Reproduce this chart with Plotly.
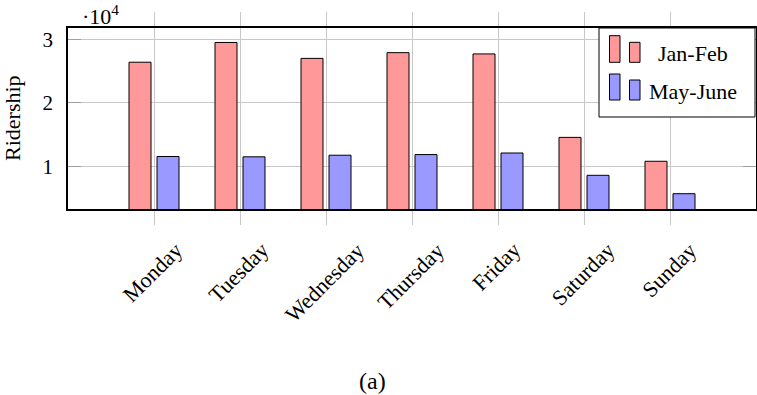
import plotly.graph_objects as go

days = ["Monday", "Tuesday", "Wednesday", "Thursday", "Friday", "Saturday", "Sunday"]
jan_feb = [26400, 29500, 27000, 27900, 27700, 14600, 10850]
may_june = [11600, 11550, 11800, 11900, 12150, 8650, 5760]
y_tickvals = [10000, 20000, 30000]
y_ticktext = ["1", "2", "3"]

RED = "rgb(255,153,153)"
BLUE = "rgb(153,153,255)"
GRID = "rgb(200,200,200)"
FONT = "Liberation Serif"

# plot area in pixels
L, R, T, B = 68, 756, 28, 209
W, H = 757, 395


def px(x):
    return (x - L) / (R - L)


def py(y):
    return (B - y) / (B - T)


fig = go.Figure()
fig.add_trace(go.Bar(x=days, y=jan_feb, name="Jan-Feb", marker=dict(color=RED, line=dict(color="black", width=1))))
fig.add_trace(go.Bar(x=days, y=may_june, name="May-June", marker=dict(color=BLUE, line=dict(color="black", width=1))))

shapes = []
annotations = []
# legend box
shapes.append(dict(type="rect", xref="paper", yref="paper", x0=px(599), x1=px(755), y0=py(117), y1=py(28),
                   line=dict(color="black", width=1), fillcolor="white", layer="above"))
for (color, name, ytop1, ytop2, ybot, ytext) in [(RED, "Jan-Feb", 35.7, 42.3, 62.3, 54),
                                                  (BLUE, "May-June", 74, 80, 100, 91)]:
    shapes.append(dict(type="rect", xref="paper", yref="paper", x0=px(609.5), x1=px(620), y0=py(ybot), y1=py(ytop1),
                       line=dict(color="black", width=1), fillcolor=color, layer="above"))
    shapes.append(dict(type="rect", xref="paper", yref="paper", x0=px(629.5), x1=px(640), y0=py(ybot), y1=py(ytop2),
                       line=dict(color="black", width=1), fillcolor=color, layer="above"))
    annotations.append(dict(text=name, xref="paper", yref="paper", x=px(693), y=py(ytext), showarrow=False,
                            xanchor="center", yanchor="middle", font=dict(family=FONT, size=22, color="black")))

# x category labels, rotated and centred under each tick
for d in days:
    annotations.append(dict(text=d, xref="x", yref="paper", x=d, xshift=-1.5, y=py(235), showarrow=False,
                            textangle=-45, xanchor="center", yanchor="top",
                            font=dict(family=FONT, size=22, color="black")))

annotations.append(dict(text="·10<sup>4</sup>", xref="paper", yref="paper", x=px(80), y=py(15), showarrow=False,
                        xanchor="left", yanchor="middle", font=dict(family=FONT, size=22, color="black")))
annotations.append(dict(text="(a)", xref="paper", yref="paper", x=px(372.5), y=py(381), showarrow=False,
                        xanchor="center", yanchor="middle", font=dict(family=FONT, size=24, color="black")))
annotations.append(dict(text="Ridership", xref="paper", yref="paper", x=px(13), y=py(118), showarrow=False,
                        textangle=-90, xanchor="center", yanchor="middle",
                        font=dict(family=FONT, size=22, color="black")))

fig.update_layout(
    width=W, height=H,
    margin=dict(l=L, r=W - R, t=T, b=H - B, pad=0),
    paper_bgcolor="white", plot_bgcolor="white",
    barmode="group", bargap=0.349, bargroupgap=0.214,
    showlegend=False,
    font=dict(family=FONT, size=21, color="black"),
    shapes=shapes, annotations=annotations,
    xaxis=dict(
        type="category", range=[-1, 7], showgrid=True, gridcolor=GRID, gridwidth=1,
        showline=True, linecolor="black", linewidth=1.5, mirror="ticks",
        ticks="outside", ticklen=14, tickcolor=GRID, tickwidth=1, automargin=False,
        showticklabels=False,
    ),
    yaxis=dict(
        range=[3360, 31770], tickvals=y_tickvals, ticktext=y_ticktext,
        showgrid=True, gridcolor=GRID, gridwidth=1, zeroline=False,
        showline=True, linecolor="black", linewidth=1.5, mirror="ticks",
        ticks="inside", ticklen=13, tickcolor="rgb(160,160,160)", tickwidth=1, automargin=False,
        tickfont=dict(family=FONT, size=21), ticklabelstandoff=9,
    ),
)

fig.write_html("out.html", config={"displayModeBar": False},
               post_script="document.body.style.margin='0px';document.body.style.overflow='hidden';")
